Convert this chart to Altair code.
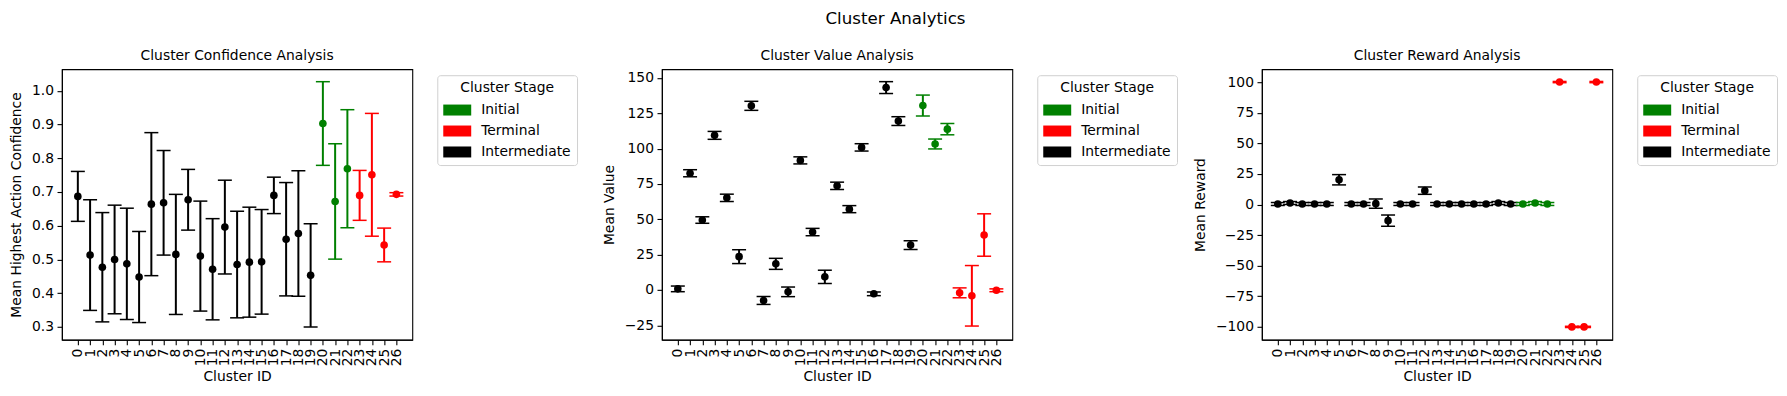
import altair as alt
import pandas as pd

clusters = list(range(27))
stages = ["Intermediate"] * 20 + ["Initial"] * 3 + ["Terminal"] * 4

conf_mean = [0.687, 0.513, 0.477, 0.500, 0.487, 0.448, 0.664, 0.668, 0.515, 0.677,
             0.510, 0.471, 0.596, 0.485, 0.492, 0.493, 0.690, 0.560, 0.577, 0.453,
             0.903, 0.672, 0.769, 0.690, 0.751, 0.543, 0.693]
conf_err = [0.074, 0.164, 0.162, 0.161, 0.165, 0.135, 0.212, 0.155, 0.178, 0.090,
            0.163, 0.150, 0.139, 0.158, 0.163, 0.155, 0.054, 0.168, 0.186, 0.153,
            0.124, 0.171, 0.175, 0.074, 0.182, 0.050, 0.005]

value_mean = [0.8, 82.6, 49.5, 109.4, 65.2, 23.6, 130.3, -7.4, 18.5, -1.3,
              91.7, 41.0, 9.3, 73.7, 57.2, 100.9, -2.7, 143.2, 119.5, 31.8,
              130.5, 103.3, 113.8, -2.0, -4.1, 38.9, -0.2]
value_err = [2.0, 2.5, 2.3, 2.8, 2.6, 4.9, 3.2, 2.8, 3.9, 3.4,
             2.5, 2.6, 4.7, 2.6, 2.5, 2.6, 1.3, 4.2, 3.1, 3.1,
             7.4, 3.5, 4.0, 3.5, 21.4, 15.0, 1.0]

reward_mean = [0.4, 1.2, 0.4, 0.4, 0.4, 20.2, 0.4, 0.4, 0.7, -13.2,
               0.4, 0.4, 11.3, 0.4, 0.4, 0.4, 0.4, 0.4, 1.2, 0.4,
               0.4, 1.2, 0.4, 100.0, -100.0, -100.0, 100.0]
reward_err = [1.2, 1.2, 1.2, 1.2, 1.2, 4.2, 1.2, 1.2, 3.8, 4.6,
              1.2, 1.2, 3.0, 1.2, 1.2, 1.2, 1.2, 1.2, 1.2, 1.2,
              1.2, 1.2, 1.2, 0.5, 0.5, 0.5, 0.5]

stage_order = ["Initial", "Terminal", "Intermediate"]
stage_colors = ["#008000", "#ff0000", "#000000"]

FONT = "DejaVu Sans"
W, H = 351, 271


def panel(means, errs, title, ytitle, ydomain, yticks, yfmt):
    df = pd.DataFrame({
        "cluster": clusters,
        "mean": means,
        "err": errs,
        "stage": stages,
    })
    df["lo"] = df["mean"] - df["err"]
    df["hi"] = df["mean"] + df["err"]

    xenc = alt.X("cluster:Q", title="Cluster ID",
                 scale=alt.Scale(domain=[-1.3, 27.3], nice=False, zero=False),
                 axis=alt.Axis(values=clusters, labelAngle=-90, grid=False,
                               format="d", labelFlush=False, labelOverlap=False))
    yscale = alt.Scale(domain=ydomain, nice=False, zero=False)
    yaxis = alt.Axis(values=yticks, grid=False, format=yfmt, labelFlush=False,
                     labelOverlap=False, titlePadding=8)
    cscale = alt.Scale(domain=stage_order, range=stage_colors)
    legend = alt.Legend(
        title="Cluster Stage", orient="none", legendX=W + 25, legendY=6,
        symbolType="M-1.4,-0.55H1.4V0.55H-1.4Z", symbolSize=400,
        symbolStrokeWidth=0, symbolOffset=4, padding=6,
        strokeColor="#d0d0d0", fillColor="white", cornerRadius=3,
        titleFontSize=13.9, titleFontWeight="normal", titleFont=FONT,
        titleColor="black", titleAnchor="middle", titlePadding=5,
        labelFontSize=13.9, labelFont=FONT, labelColor="black",
        labelOffset=14, rowPadding=4,
    )
    cenc = alt.Color("stage:N", scale=cscale, legend=legend, title="Cluster Stage")

    base = alt.Chart(df)
    points = base.mark_circle(size=58, opacity=1).encode(
        x=xenc,
        y=alt.Y("mean:Q", scale=yscale, axis=yaxis, title=ytitle),
        color=cenc,
    )
    rules = base.mark_rule(strokeWidth=2).encode(
        x=xenc,
        y=alt.Y("lo:Q", scale=yscale, axis=yaxis, title=ytitle),
        y2="hi:Q",
        color=cenc,
    )
    caps_lo = base.mark_tick(orient="horizontal", size=14, thickness=1.5, opacity=1).encode(
        x=xenc,
        y=alt.Y("lo:Q", scale=yscale, axis=yaxis, title=ytitle),
        color=cenc,
    )
    caps_hi = base.mark_tick(orient="horizontal", size=14, thickness=1.5, opacity=1).encode(
        x=xenc,
        y=alt.Y("hi:Q", scale=yscale, axis=yaxis, title=ytitle),
        color=cenc,
    )
    return alt.layer(points, rules, caps_lo, caps_hi).properties(
        width=W, height=H,
        title=alt.TitleParams(title, fontSize=13.9, fontWeight="normal",
                              font=FONT, color="black", offset=6),
    )


p1 = panel(conf_mean, conf_err, "Cluster Confidence Analysis",
           "Mean Highest Action Confidence", [0.262, 1.064],
           [0.3, 0.4, 0.5, 0.6, 0.7, 0.8, 0.9, 1.0], ".1f")
p2 = panel(value_mean, value_err, "Cluster Value Analysis", "Mean Value",
           [-35.2, 156.2], [-25, 0, 25, 50, 75, 100, 125, 150], "d")
p3 = panel(reward_mean, reward_err, "Cluster Reward Analysis", "Mean Reward",
           [-110.5, 110.5], [-100, -75, -50, -25, 0, 25, 50, 75, 100], "d")

chart = alt.hconcat(p1, p2, p3, spacing=250, bounds="flush").resolve_scale(
    color="independent", y="independent"
).resolve_legend(color="independent").properties(
    title=alt.TitleParams("Cluster Analytics", fontSize=16.7, fontWeight="normal",
                          font=FONT, color="black", anchor="middle", dx=2,
                          offset=21),
    padding={"left": 0, "top": 2, "right": 0, "bottom": 0},
).configure_view(
    stroke="black", strokeWidth=1.1
).configure_axis(
    labelFont=FONT, labelFontSize=13.9, labelColor="black",
    titleFont=FONT, titleFontSize=13.9, titleFontWeight="normal", titleColor="black",
    tickColor="black", tickSize=4.9, tickWidth=1.1,
    domainColor="black", domainWidth=1.1, labelPadding=3.5, titlePadding=4,
)

chart.save("out.html", embed_options={"renderer": "svg", "actions": False})
